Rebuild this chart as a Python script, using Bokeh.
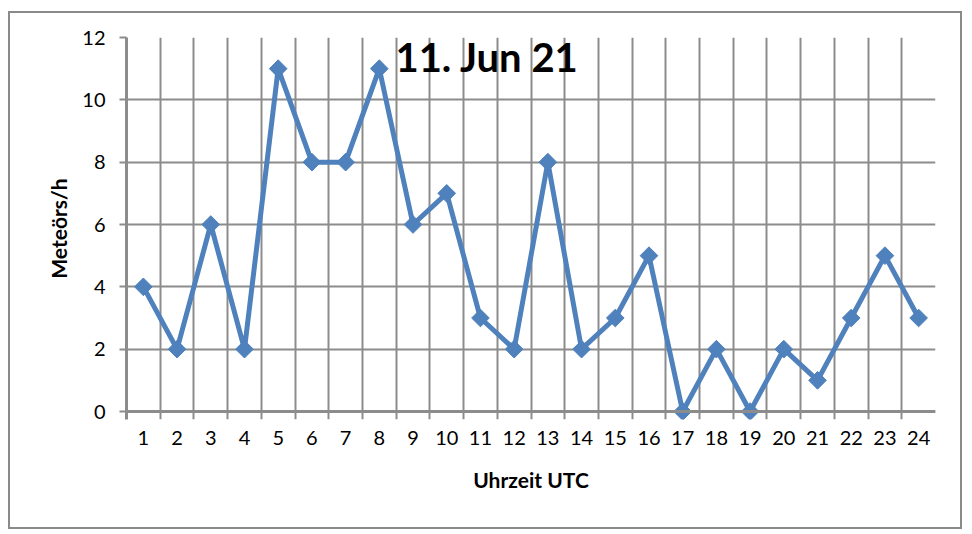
import numpy as np
from bokeh.plotting import figure
from bokeh.models import FixedTicker, Range1d, Label, Span
from bokeh.embed import file_html
from bokeh.resources import INLINE

hours = list(range(1, 25))
meteors = [4, 2, 6, 2, 11, 8, 8, 11, 6, 7, 3, 2, 8, 2, 3, 5, 0, 2, 0, 2, 1, 3, 5, 3]
y_ticks = [0, 2, 4, 6, 8, 10, 12]
title_text = "11. Jun 21"
x_title = "Uhrzeit UTC"
y_title = "Meteörs/h"

FONT = "Lato"
GRID = "#8c8c8c"
BLUE = "#4f81bd"

PX_PER_UNIT = 374 / 12.0
y_low = -8 / PX_PER_UNIT  # room below zero so that grid lines form the tick marks

p = figure(width=954, height=518, output_backend="svg", toolbar_location=None,
           x_range=Range1d(0.5, 24.5), y_range=Range1d(y_low, 12),
           min_border_left=116, min_border_right=29, min_border_top=24, min_border_bottom=112)
p.styles = {"border": "2px solid #8a8a8a", "margin": "11px 0 0 8px"}
p.outline_line_color = None

boundaries = [h - 0.5 for h in hours] + [24.5]

# x axis (labels only; zero line drawn as span)
p.xaxis.ticker = FixedTicker(ticks=hours, minor_ticks=[])
p.xaxis.major_tick_line_color = None
p.xaxis.major_tick_out = 0
p.xaxis.major_tick_in = 0
p.xaxis.axis_line_color = None
p.xaxis.major_label_standoff = 11
p.xaxis.major_label_text_font = FONT
p.xaxis.major_label_text_font_size = "20px"
p.xaxis.major_label_text_color = "black"
p.xaxis.axis_label = x_title
p.xaxis.axis_label_text_font = FONT
p.xaxis.axis_label_text_font_style = "bold"
p.xaxis.axis_label_text_font_size = "21px"
p.xaxis.axis_label_text_color = "black"
p.xaxis.axis_label_standoff = 19

# y axis
p.yaxis.ticker = FixedTicker(ticks=y_ticks, minor_ticks=[])
p.yaxis.major_tick_out = 7
p.yaxis.major_tick_in = 0
p.yaxis.major_tick_line_color = GRID
p.yaxis.major_tick_line_width = 2
p.yaxis.axis_line_color = GRID
p.yaxis.axis_line_width = 3
p.yaxis.major_label_standoff = 14
p.yaxis.major_label_text_font = FONT
p.yaxis.major_label_text_font_size = "20px"
p.yaxis.major_label_text_color = "black"
p.yaxis.axis_label = y_title
p.yaxis.axis_label_text_font = FONT
p.yaxis.axis_label_text_font_style = "bold"
p.yaxis.axis_label_text_font_size = "21px"
p.yaxis.axis_label_text_color = "black"
p.yaxis.axis_label_standoff = 8

# grids
p.xgrid.ticker = FixedTicker(ticks=boundaries)
p.ygrid.ticker = FixedTicker(ticks=y_ticks)
for g in (p.xgrid, p.ygrid):
    g.grid_line_color = GRID
    g.grid_line_width = 2

p.add_layout(Span(location=0, dimension="width", line_color=GRID, line_width=3))

p.line(hours, meteors, line_color=BLUE, line_width=5)
p.scatter(hours, meteors, marker="square", angle=np.pi / 4, size=12.5,
          fill_color=BLUE, line_color=BLUE)

p.add_layout(Label(x=11.2, y=11.36, text=title_text, text_align="center",
                   text_baseline="middle", text_font=FONT, text_font_style="bold",
                   text_font_size="40px", text_color="black"))

open("out.html", "w").write(file_html(p, INLINE))
